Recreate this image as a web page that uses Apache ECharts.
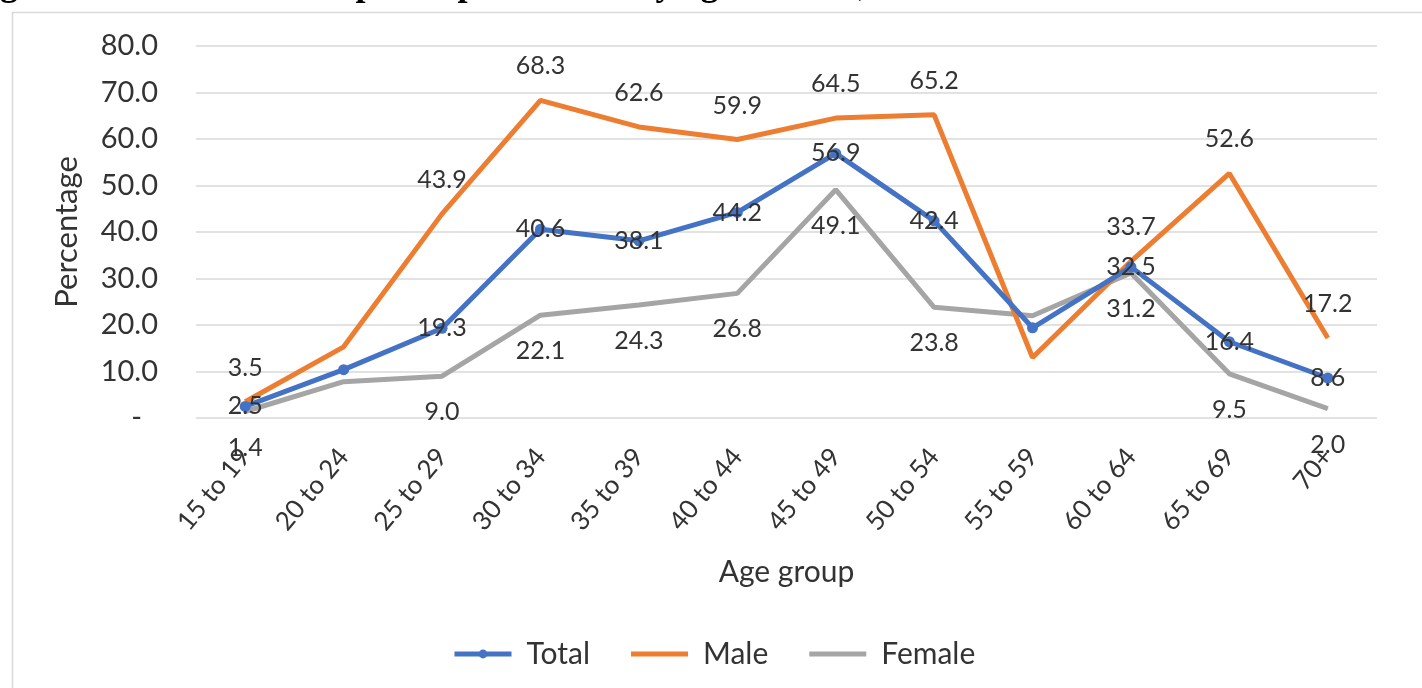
<!DOCTYPE html>
<html>
<head>
<meta charset="utf-8">
<title>Labour force participation rate by age and sex</title>
<script src="https://cdn.jsdelivr.net/npm/echarts@6/dist/echarts.min.js"></script>
<style>
  html, body { margin: 0; padding: 0; background: #ffffff; }
  #chart { width: 1422px; height: 688px; }
</style>
</head>
<body>
<div id="chart"></div>
<script>
// Age groups on the category axis
const ageGroups = ['15 to 19', '20 to 24', '25 to 29', '30 to 34', '35 to 39', '40 to 44',
                   '45 to 49', '50 to 54', '55 to 59', '60 to 64', '65 to 69', '70+'];

// Participation rate (%) per age group
const totalRate  = [2.5, 10.4, 19.3, 40.6, 38.1, 44.2, 56.9, 42.4, 19.4, 32.5, 16.4, 8.6];
const maleRate   = [3.5, 15.3, 43.9, 68.3, 62.6, 59.9, 64.5, 65.2, 13.0, 33.7, 52.6, 17.2];
const femaleRate = [1.4, 7.8, 9.0, 22.1, 24.3, 26.8, 49.1, 23.8, 22.0, 31.2, 9.5, 2.0];

// Age groups whose points carry no value label
const unlabeledGroups = ['20 to 24', '55 to 59'];

// Value axis ticks
const yTicks = [0, 10, 20, 30, 40, 50, 60, 70, 80];

const FONT = 'Lato, "Open Sans", sans-serif';
const TEXT = '#333333';
const COLORS = { Total: '#4472C4', Male: '#ED7D31', Female: '#A5A5A5' };

// Thin bar used as the legend key of the marker-less lines
const LINE_ICON = 'path://M0,0H100V9H0Z';

function withLabels(values) {
  return values.map((v, i) =>
    unlabeledGroups.includes(ageGroups[i]) ? { value: v, label: { show: false } } : v);
}

const chart = echarts.init(document.getElementById('chart'), null, { renderer: 'canvas' });

chart.setOption({
  backgroundColor: '#ffffff',
  animation: false,
  textStyle: { fontFamily: FONT, color: TEXT },
  graphic: [
    {
      type: 'text',
      x: -32, y: 4,
      silent: true,
      style: {
        text: 'Figure 4.4: Labour force participation rate by age and sex, Puntland State of Somalia',
        font: 'bold 36px "Liberation Serif", "DejaVu Serif", serif',
        fill: '#000000',
        verticalAlign: 'bottom'
      }
    },
    {
      type: 'rect',
      silent: true,
      shape: { x: 12.5, y: 12.5, width: 1420, height: 690 },
      style: { fill: 'none', stroke: '#d9d9d9', lineWidth: 1.5 }
    }
  ],
  grid: { left: 196, right: 45, top: 46, bottom: 270, containLabel: false },
  legend: {
    left: 447,
    top: 634,
    itemWidth: 57,
    itemHeight: 11,
    itemGap: 41,
    symbolKeepAspect: true,
    data: [
      { name: 'Total', lineStyle: { width: 5 } },
      { name: 'Male', icon: LINE_ICON },
      { name: 'Female', icon: LINE_ICON }
    ],
    textStyle: { fontFamily: FONT, fontSize: 30, color: TEXT, padding: [0, 0, 0, 10] }
  },
  xAxis: {
    type: 'category',
    data: ageGroups,
    boundaryGap: true,
    name: 'Age group',
    nameLocation: 'middle',
    nameGap: 139,
    nameTextStyle: { fontFamily: FONT, fontSize: 30, color: TEXT },
    axisLine: { show: false },
    axisTick: { show: false },
    axisLabel: { rotate: 50, margin: 34, fontFamily: FONT, fontSize: 26, color: TEXT, interval: 0 }
  },
  yAxis: {
    type: 'value',
    min: yTicks[0],
    max: yTicks[yTicks.length - 1],
    interval: yTicks[1] - yTicks[0],
    name: 'Percentage',
    nameLocation: 'middle',
    nameGap: 114,
    nameTextStyle: { fontFamily: FONT, fontSize: 31, color: TEXT },
    axisLine: { show: false },
    axisTick: { show: false },
    splitLine: { lineStyle: { color: '#d9d9d9', width: 1.5 } },
    axisLabel: {
      margin: 38,
      fontFamily: FONT,
      fontSize: 29,
      color: TEXT,
      formatter: v => v === 0 ? '{dash|-}' : v.toFixed(1),
      rich: { dash: { fontFamily: FONT, fontSize: 29, color: TEXT, padding: [0, 16, 0, 0] } }
    }
  },
  series: [
    {
      name: 'Total',
      type: 'line',
      data: withLabels(totalRate),
      z: 4,
      symbol: 'circle',
      symbolSize: 11,
      color: COLORS.Total,
      lineStyle: { width: 5, color: COLORS.Total },
      itemStyle: { color: COLORS.Total },
      label: { show: true, position: 'inside', fontFamily: FONT, fontSize: 25, color: TEXT,
               formatter: p => Number(p.value).toFixed(1) }
    },
    {
      name: 'Male',
      type: 'line',
      data: withLabels(maleRate),
      z: 3,
      symbol: 'circle',
      symbolSize: 1,
      color: COLORS.Male,
      lineStyle: { width: 5, color: COLORS.Male },
      itemStyle: { color: COLORS.Male },
      label: { show: true, position: 'top', distance: 21, fontFamily: FONT, fontSize: 25, color: TEXT,
               formatter: p => Number(p.value).toFixed(1) }
    },
    {
      name: 'Female',
      type: 'line',
      data: withLabels(femaleRate),
      z: 2,
      symbol: 'circle',
      symbolSize: 1,
      color: COLORS.Female,
      lineStyle: { width: 5, color: COLORS.Female },
      itemStyle: { color: COLORS.Female },
      label: { show: true, position: 'bottom', distance: 23, fontFamily: FONT, fontSize: 25, color: TEXT,
               formatter: p => Number(p.value).toFixed(1) }
    }
  ]
});
</script>
</body>
</html>
